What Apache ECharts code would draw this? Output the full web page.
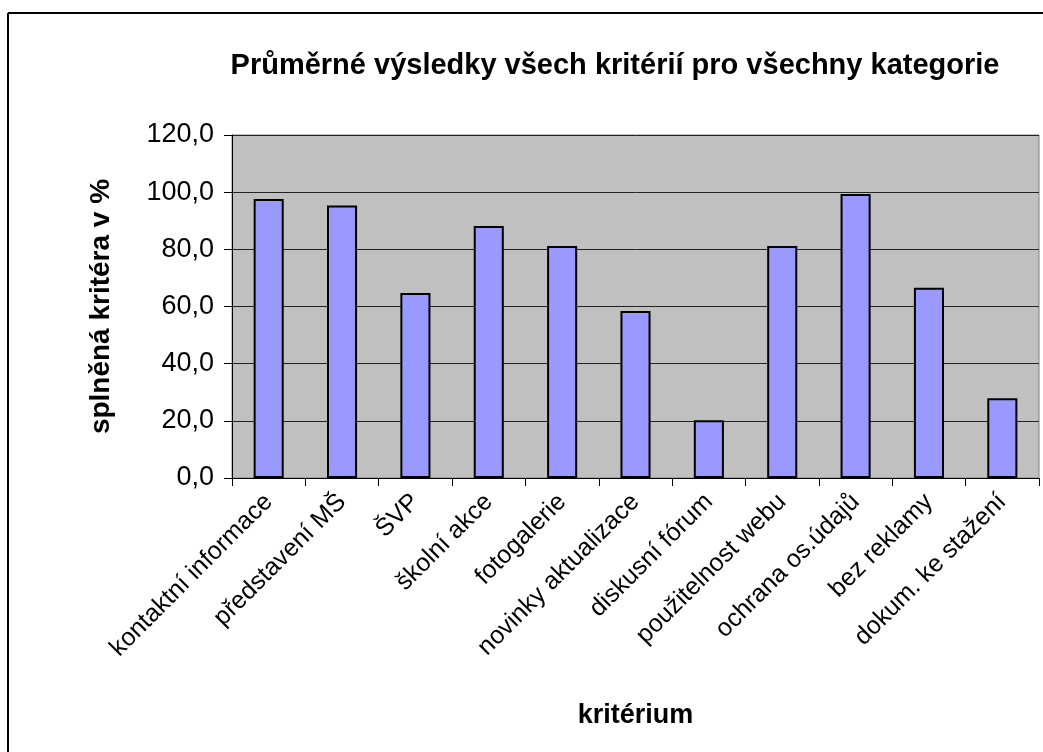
<!DOCTYPE html>
<html>
<head>
<meta charset="utf-8">
<script src="https://cdn.jsdelivr.net/npm/echarts@6/dist/echarts.min.js"></script>
<style>
  html, body { margin: 0; padding: 0; background: #fff; }
  #main { width: 1043px; height: 752px; }
</style>
</head>
<body>
<div id="main"></div>
<script>
  var categories = ['kontaktní informace', 'představení MŠ', 'ŠVP', 'školní akce', 'fotogalerie',
    'novinky aktualizace', 'diskusní fórum', 'použitelnost webu', 'ochrana os.údajů',
    'bez reklamy', 'dokum. ke stažení'];
  var values = [97.6, 95.3, 64.7, 88.2, 81.2, 58.4, 20.2, 81.2, 99.4, 66.6, 27.9];
  var yTicks = {min: 0, max: 120, interval: 20};

  var font = '"Liberation Sans", Arial, sans-serif';
  var myEchart = echarts.init(document.getElementById('main'));
  myEchart.setOption({
    animation: false,
    textStyle: {fontFamily: font},
    title: {
      text: 'Průměrné výsledky všech kritérií pro všechny kategorie',
      left: 610,
      top: 46,
      textAlign: 'center',
      textStyle: {fontSize: 29, fontWeight: 'bold', color: '#000', fontFamily: font}
    },
    graphic: [
      {type: 'line', shape: {x1: 8, y1: 13, x2: 1043, y2: 13}, style: {stroke: '#000', lineWidth: 2}},
      {type: 'line', shape: {x1: 8, y1: 13, x2: 8, y2: 752}, style: {stroke: '#000', lineWidth: 2}}
    ],
    grid: {
      show: true,
      left: 232,
      right: 4,
      top: 135,
      bottom: 274,
      backgroundColor: '#C0C0C0',
      borderColor: '#808080',
      borderWidth: 1
    },
    xAxis: {
      type: 'category',
      data: categories,
      name: 'kritérium',
      nameLocation: 'middle',
      nameGap: 224,
      nameTextStyle: {fontSize: 27, fontWeight: 'bold', color: '#000'},
      axisLine: {lineStyle: {color: '#000', width: 1}},
      axisTick: {show: true, length: 8, lineStyle: {color: '#000'}},
      axisLabel: {
        interval: 0,
        rotate: 45,
        fontSize: 25,
        color: '#000',
        margin: 20
      }
    },
    yAxis: {
      type: 'value',
      min: yTicks.min,
      max: yTicks.max,
      interval: yTicks.interval,
      name: 'splněná kritéra v %',
      nameLocation: 'middle',
      nameRotate: 90,
      nameGap: 117,
      nameTextStyle: {fontSize: 28, fontWeight: 'bold', color: '#000'},
      axisLine: {show: true, lineStyle: {color: '#000', width: 1}},
      axisTick: {show: true, length: 8, lineStyle: {color: '#000'}},
      axisLabel: {
        fontSize: 27,
        color: '#000',
        margin: 18,
        formatter: function (v) { return v.toFixed(1).replace('.', ','); }
      },
      splitLine: {show: true, lineStyle: {color: '#222', width: 1}}
    },
    series: [{
      type: 'bar',
      data: values,
      barWidth: '41%',
      itemStyle: {color: '#9999FF', borderColor: '#000', borderWidth: 2}
    }]
  });
</script>
</body>
</html>
